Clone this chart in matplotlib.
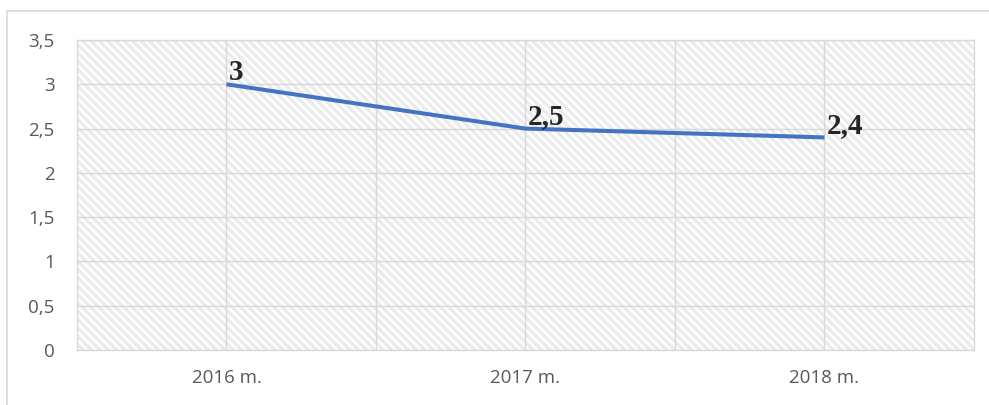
import matplotlib
matplotlib.use("Agg")
import matplotlib.pyplot as plt
from matplotlib.patches import Rectangle

# data
years = ["2016 m.", "2017 m.", "2018 m."]
values = [3.0, 2.5, 2.4]
value_labels = ["3", "2,5", "2,4"]
y_ticks = [0, 0.5, 1, 1.5, 2, 2.5, 3, 3.5]
y_tick_labels = ["0", "0,5", "1", "1,5", "2", "2,5", "3", "3,5"]

LINE = "#4472C4"
GRID = "#d9d9d9"
TICK = "#595959"
HATCH = "#ebebeb"

plt.rcParams["hatch.linewidth"] = 2.4
plt.rcParams["font.family"] = ["Open Sans", "DejaVu Sans"]

W, H = 989, 405
fig = plt.figure(figsize=(W / 100, H / 100), dpi=100)
fig.patch.set_facecolor("white")

# outer chart frame (runs off right and bottom edges)
fig.patches.append(Rectangle((7 / W, -0.05), 1.1, 1 - 11 / H + 0.05,
                             transform=fig.transFigure, facecolor="none",
                             edgecolor=GRID, linewidth=1.2))

ax = fig.add_axes([77 / W, 1 - 350 / H, (974 - 77) / W, (350 - 40) / H])
ax.set_facecolor("white")

# hatched plot area
ax.add_patch(Rectangle((0, 0), 1, 1, transform=ax.transAxes, facecolor="white",
                       edgecolor=HATCH, hatch="\\\\\\\\", linewidth=0, zorder=0))

x = list(range(len(years)))
ax.set_xlim(-0.5, len(years) - 0.5)
ax.set_ylim(0, 3.5)

for yv in y_ticks:
    ax.axhline(yv, color=GRID, lw=1.0, zorder=1)
for xv in [0, 0.5, 1, 1.5, 2]:
    ax.axvline(xv, color=GRID, lw=1.0, zorder=1)

ax.plot(x, values, color=LINE, lw=2.9, solid_capstyle="butt", zorder=3)

for xi, v, lab in zip(x, values, value_labels):
    ax.annotate(lab, (xi, v), xytext=(1.5, 3), textcoords="offset points",
                ha="left", va="baseline", fontsize=21, fontweight="bold",
                family="Liberation Serif", color="#262626", zorder=4)

ax.set_xticks(x)
ax.set_xticklabels(years)
ax.set_yticks(y_ticks)
ax.set_yticklabels(y_tick_labels)
ax.tick_params(axis="both", length=0, labelsize=13.5, colors=TICK)
ax.tick_params(axis="y", pad=16)
ax.tick_params(axis="x", pad=14)

for s in ax.spines.values():
    s.set_color(GRID)
    s.set_linewidth(1.0)

fig.savefig("out.png", dpi=100, facecolor="white")
